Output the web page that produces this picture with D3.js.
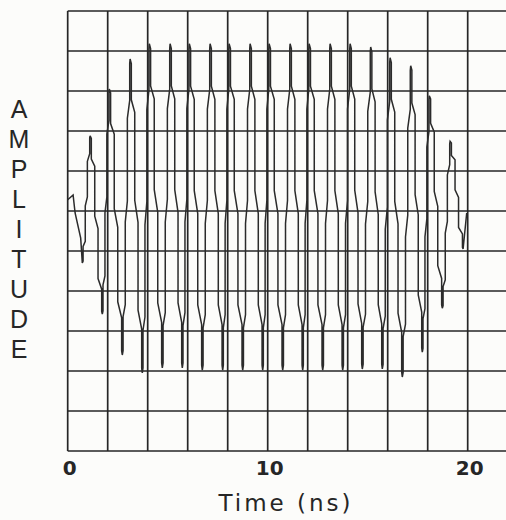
<!DOCTYPE html>
<html><head><meta charset="utf-8">
<script src="https://cdn.jsdelivr.net/npm/d3@7"></script>
<style>html,body{margin:0;padding:0;background:#fcfcfa;} svg{display:block}</style>
</head><body><svg id="chart" width="506" height="520"></svg>
<script>
// ---- data ----
const xTickValues = [0, 10, 20];
const xTickLabels = ["0", "10", "20"];
const xGridValues = [0, 2, 4, 6, 8, 10, 12, 14, 16, 18, 20, 22];
const yGridValues = [-6, -5, -4, -3, -2, -1, 0, 1, 2, 3, 4, 5];
const yLabelLetters = ["A", "M", "P", "L", "I", "T", "U", "D", "E"];
const xTitle = "Time (ns)";
const timeNs = [0.00, 0.27, 0.37, 0.65, 0.73, 1.12, 1.73, 2.08, 2.73, 3.12, 3.73, 4.08, 4.73, 5.12, 5.73, 6.08, 6.73, 7.12, 7.75, 8.07, 8.75, 9.12, 9.75, 10.07, 10.75, 11.12, 11.75, 12.07, 12.75, 13.12, 13.75, 14.12, 14.73, 15.15, 15.73, 16.12, 16.73, 17.15, 17.73, 18.08, 18.73, 19.12, 19.77, 19.95];
const amplitude = [0.28, 0.40, -0.05, -0.68, -1.30, 1.88, -2.58, 3.05, -3.60, 3.80, -4.05, 4.18, -3.92, 4.18, -3.92, 4.18, -3.98, 4.18, -3.98, 4.18, -3.98, 4.18, -3.98, 4.18, -3.98, 4.18, -3.98, 4.18, -3.98, 4.18, -3.98, 4.18, -3.95, 4.10, -3.95, 3.83, -4.15, 3.63, -3.53, 2.88, -2.43, 1.74, -0.95, -0.05];

// ---- layout ----
const svg = d3.select("#chart");
const x = d3.scaleLinear().domain([0, 22]).range([67.7, 507.7]);
const y = d3.scaleLinear().domain([-6, 5]).range([451, 11]);

const grid = svg.append("g").attr("stroke", "#262626").attr("stroke-width", 1.7);
grid.selectAll("line.h").data(yGridValues).join("line").attr("class", "h")
  .attr("x1", x(0)).attr("x2", 510)
  .attr("y1", d => y(d)).attr("y2", d => y(d));
grid.selectAll("line.v").data(xGridValues).join("line").attr("class", "v")
  .attr("x1", d => x(d)).attr("x2", d => x(d))
  .attr("y1", y(5)).attr("y2", y(-6));

// plotter-style curve: long strokes are drawn as vertical runs with small jogs
const jogProfile = [[0.015, 0.1], [0.13, 0.1], [0.17, 0.38], [0.45, 0.38], [0.52, 0.65], [0.8, 0.65], [0.86, 0.95], [0.985, 0.95], [1, 1]];
function jogCurve(context) {
  let pts = [];
  return {
    areaStart() {}, areaEnd() {},
    lineStart() { pts = []; },
    point(px, py) { pts.push([px, py]); },
    lineEnd() {
      pts.forEach((p, i) => {
        if (i === 0) { context.moveTo(p[0], p[1]); return; }
        const a = pts[i - 1];
        const dx = p[0] - a[0], dy = p[1] - a[1];
        if (Math.abs(dy) < 60) { context.lineTo(p[0], p[1]); return; }
        jogProfile.forEach(([fy, fx]) => context.lineTo(a[0] + fx * dx, a[1] + fy * dy));
      });
    }
  };
}

const pts = timeNs.map((t, i) => [t, amplitude[i]]);
const line = d3.line().x(d => x(d[0])).y(d => y(d[1])).curve(jogCurve);
svg.append("path").datum(pts).attr("d", line)
  .attr("fill", "none").attr("stroke", "#2b2b2b").attr("stroke-width", 1.5)
  .attr("stroke-linejoin", "miter").attr("stroke-miterlimit", 3);

// tick labels
svg.selectAll("text.xt").data(xTickValues).join("text").attr("class", "xt")
  .attr("x", d => x(d) + 2).attr("y", 475)
  .attr("text-anchor", "middle")
  .attr("font-family", "DejaVu Sans, sans-serif").attr("font-weight", "bold")
  .attr("font-size", 20).attr("fill", "#262626")
  .text((d, i) => xTickLabels[i]);

svg.append("text").attr("x", 286).attr("y", 511)
  .attr("text-anchor", "middle")
  .attr("font-family", "DejaVu Sans, sans-serif").attr("font-size", 23)
  .attr("letter-spacing", 3).attr("fill", "#262626").text(xTitle);

svg.selectAll("text.yl").data(yLabelLetters).join("text").attr("class", "yl")
  .attr("x", 19).attr("y", (d, i) => 118 + i * 30)
  .attr("text-anchor", "middle")
  .attr("font-family", "Liberation Sans, Arial, sans-serif").attr("font-size", 25)
  .attr("fill", "#262626").text(d => d);
</script></body></html>
